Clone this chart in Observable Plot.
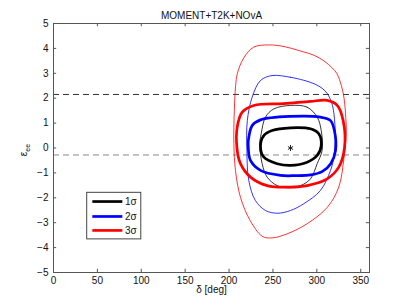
<!DOCTYPE html>
<html><head><meta charset="utf-8">
<script src="https://cdn.jsdelivr.net/npm/d3@7"></script>
<script src="https://cdn.jsdelivr.net/npm/@observablehq/plot@0.6"></script>
<style>body{margin:0;background:#fff;}</style>
</head><body><div id="chart"></div>
<script>
const title = "MOMENT+T2K+NOvA";
const xLabel = "δ [deg]";
const xTicks = [0, 50, 100, 150, 200, 250, 300, 350];
const yTicks = [-5, -4, -3, -2, -1, 0, 1, 2, 3, 4, 5];
const bestFit = [[270, 0]];
const dashUpper = [2.15];
const dashLower = [-0.28];
const legendLabels = ["1σ", "2σ", "3σ"];

// contour points [delta (deg), epsilon_ee]
const sigma3Outer = [[245,4.14],[262,4.08],[281,3.9],[297,3.72],[308,3.5],[318,3.2],[323,2.98],[328,2.5],[331,2.0],[333,1.2],[333.5,0.6],[331,-0.37],[325,-1.57],[312,-2.38],[289,-3.04],[266,-3.45],[249,-3.61],[238,-3.55],[224,-2.91],[213,-1.98],[207.3,-0.9],[205.5,0.17],[206,1.5],[207.5,2.5],[209.5,3.0],[216.8,3.62],[228,4.05]];
const sigma2Outer = [[249,2.91],[270,2.84],[285,2.72],[297,2.58],[306,2.4],[312,2.18],[317,1.8],[319.5,1.37],[321,0.43],[319.3,-0.37],[315.6,-0.9],[304,-1.71],[285,-2.24],[270,-2.51],[255,-2.62],[241.5,-2.51],[230,-2.11],[222.5,-1.31],[220.3,-0.1],[220.8,1.1],[226.3,2.04],[235.8,2.71]];
const sigma1Outer = [[270,1.71],[289,1.64],[300.4,1.24],[305,0.7],[306,-0.1],[300.4,-0.63],[292.8,-1.24],[281.4,-1.51],[268,-1.6],[254.8,-1.51],[243.4,-1.17],[237.7,-0.63],[235,0.17],[236.6,0.57],[241.5,1.24],[251,1.57]];
const sigma1Inner = [[270,0.81],[292.8,0.77],[302.2,0.57],[305,0.1],[300.4,-0.3],[289,-0.57],[270,-0.7],[254.8,-0.63],[239.6,-0.37],[235.8,0.08],[239.6,0.5],[249,0.7]];
const sigma2Inner = [[270,1.27],[304,1.24],[315.6,1.1],[320,0.7],[321.3,-0.1],[316,-0.62],[306,-0.95],[293,-1.08],[276,-1.11],[258.6,-1.1],[235.8,-0.9],[224.4,-0.5],[221.8,0.17],[222.5,0.43],[226.3,0.9],[235.8,1.13]];
const sigma3Inner = [[262.4,1.78],[292.8,1.87],[311.8,1.91],[323.2,1.71],[330,1.1],[331.5,0.0],[325,-0.77],[311.8,-1.24],[289,-1.51],[270,-1.57],[243.4,-1.51],[224.4,-1.17],[213,-0.63],[209,0.0],[209.3,0.84],[215,1.44],[228.2,1.71]];

const colors = ["#000000", "#0000ff", "#ff0000"];
const thin = 0.8, thick = 2.7;

const contours = [
  {pts: sigma3Outer, c: 2, w: thin},
  {pts: sigma2Outer, c: 1, w: thin},
  {pts: sigma1Outer, c: 0, w: thin},
  {pts: sigma3Inner, c: 2, w: thick},
  {pts: sigma2Inner, c: 1, w: thick},
  {pts: sigma1Inner, c: 0, w: thick}
];

// legend layout (in data units)
const lg = {x1: 38.4, x2: 100, y1: -1.8, y2: -3.67, lx1: 44.8, lx2: 79, tx: 81.5, rows: [-2.15, -2.75, -3.31]};
const legendRows = legendLabels.map((t, i) => ({t, y: lg.rows[i], c: colors[i]}));

const tickLenY = 0.13, tickLenX = 3.6;

const marks = [
  Plot.ruleY(dashUpper, {stroke: "#333", strokeWidth: 1, strokeDasharray: "6,4"}),
  Plot.ruleY(dashLower, {stroke: "#888", strokeWidth: 1, strokeDasharray: "6,4"}),
  ...contours.map(k => Plot.line(k.pts, {x: d => d[0], y: d => d[1], curve: "catmull-rom-closed", stroke: colors[k.c], strokeWidth: k.w})),
  Plot.dot(bestFit, {x: d => d[0], y: d => d[1], symbol: "asterisk", r: 2.8, stroke: "#222", strokeWidth: 1}),
  // inward ticks
  Plot.ruleX(xTicks, {x: d => d, y1: -5, y2: -5 + tickLenY, stroke: "#555"}),
  Plot.ruleX(xTicks, {x: d => d, y1: 5, y2: 5 - tickLenY, stroke: "#555"}),
  Plot.ruleY(yTicks, {y: d => d, x1: 0, x2: tickLenX, stroke: "#555"}),
  Plot.ruleY(yTicks, {y: d => d, x1: 360, x2: 360 - tickLenX, stroke: "#555"}),
  Plot.frame({stroke: "#555", strokeWidth: 1}),
  Plot.axisX(xTicks, {tickSize: 0, tickPadding: 4, fontSize: 10, label: null}),
  Plot.axisY(yTicks, {tickSize: 0, tickPadding: 5, fontSize: 10, label: null}),
  Plot.text([title], {text: d => d, frameAnchor: "top", dy: -12, fontSize: 10, fill: "#111"}),
  Plot.text([xLabel], {text: d => d, frameAnchor: "bottom", dy: 20, fontSize: 10, fill: "#111"}),
  // legend
  Plot.rect([lg], {x1: d => d.x1, x2: d => d.x2, y1: d => d.y1, y2: d => d.y2, fill: "white", stroke: "#444", strokeWidth: 1}),
  Plot.ruleY(legendRows, {y: d => d.y, x1: lg.lx1, x2: lg.lx2, stroke: d => d.c, strokeWidth: thick}),
  Plot.text(legendRows, {x: lg.tx, y: d => d.y, text: d => d.t, textAnchor: "start", fontSize: 10, fill: "#111"})
];

const chart = Plot.plot({
  width: 407, height: 306,
  marginLeft: 53, marginRight: 38, marginTop: 23, marginBottom: 34,
  style: {fontFamily: "'Liberation Sans', Arial, sans-serif", background: "white", color: "#111"},
  x: {domain: [0, 360], ticks: xTicks},
  y: {domain: [-5, 5], ticks: yTicks},
  marks
});
document.getElementById("chart").appendChild(chart);

// y label epsilon_ee
const svg = d3.select(chart);
const yl = svg.append("text")
  .attr("transform", "translate(27,150) rotate(-90)")
  .attr("text-anchor", "middle")
  .attr("font-size", 10)
  .attr("fill", "#111")
  .attr("font-family", "'Liberation Sans', Arial, sans-serif");
yl.append("tspan").text("ε");
yl.append("tspan").attr("font-size", 7).attr("dy", 3).text("ee");
</script>
</body></html>
